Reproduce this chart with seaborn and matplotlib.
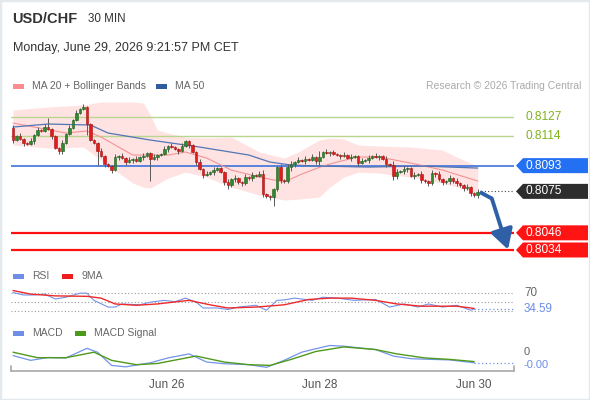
import numpy as np
import pandas as pd
import seaborn as sns
import matplotlib.pyplot as plt
import matplotlib.transforms as mtransforms
from matplotlib.patches import Polygon, Rectangle
from matplotlib.lines import Line2D

# 30 min candles
first_open = 0.81193
closes = [
    0.81109, 0.81137, 0.81116, 0.81088, 0.81081, 0.81102, 0.81144, 0.81179, 0.81172, 0.81200,
    0.81186, 0.81137, 0.81053, 0.81032, 0.81088, 0.81151, 0.81193, 0.81249, 0.81298, 0.81326,
    0.81340, 0.81221, 0.81109, 0.81088, 0.81032, 0.80997, 0.80941, 0.80927, 0.80899, 0.80990,
    0.80997, 0.80983, 0.80955, 0.80969, 0.80976, 0.80962, 0.80990, 0.80997, 0.81018, 0.80976,
    0.80990, 0.81004, 0.81011, 0.81046, 0.81067, 0.81060, 0.81046, 0.81032, 0.81067, 0.81102,
    0.81074, 0.81025, 0.80955, 0.80906, 0.80864, 0.80871, 0.80885, 0.80899, 0.80913, 0.80885,
    0.80815, 0.80794, 0.80836, 0.80843, 0.80815, 0.80808, 0.80850, 0.80843, 0.80864, 0.80857,
    0.80871, 0.80731, 0.80717, 0.80710, 0.80766, 0.80920, 0.80829, 0.80822, 0.80920, 0.80941,
    0.80955, 0.80969, 0.80962, 0.80976, 0.80969, 0.80990, 0.80962, 0.80990, 0.81025, 0.81018,
    0.81022, 0.81011, 0.81004, 0.80997, 0.81004, 0.80983, 0.80990, 0.80997, 0.80948, 0.80962,
    0.80969, 0.80983, 0.80997, 0.80990, 0.80997, 0.80976, 0.80941, 0.80934, 0.80857, 0.80885,
    0.80892, 0.80906, 0.80913, 0.80857, 0.80864, 0.80871, 0.80829, 0.80822, 0.80808, 0.80878,
    0.80871, 0.80836, 0.80815, 0.80822, 0.80843, 0.80822, 0.80808, 0.80794, 0.80773, 0.80780,
    0.80738, 0.80724, 0.80745]
# wick lengths in pips
upper_wick = [2, 1, 2, 1, 1, 2, 1, 2, 1, 2,
              6, 1, 1, 1, 2, 1, 2, 1, 2, 1,
              2, 1, 1, 1, 1, 2, 1, 1, 1, 2,
              1, 2, 1, 2, 1, 2, 1, 2, 1, 1,
              2, 1, 1, 2, 1, 2, 1, 1, 2, 1,
              1, 1, 1, 2, 1, 2, 1, 2, 1, 1,
              1, 2, 1, 2, 1, 1, 2, 1, 2, 1,
              2, 3, 1, 1, 1, 1, 2, 1, 2, 2,
              1, 2, 1, 2, 1, 2, 1, 4, 1, 2,
              1, 2, 1, 1, 2, 1, 2, 1, 1, 2,
              1, 2, 1, 2, 1, 1, 2, 1, 3, 2,
              1, 2, 1, 1, 2, 1, 2, 1, 1, 2,
              1, 2, 1, 1, 2, 1, 2, 1, 1, 2,
              1, 1, 2]
lower_wick = [2, 1, 1, 2, 1, 1, 2, 1, 1, 1,
              1, 2, 1, 2, 2, 1, 1, 1, 1, 1,
              1, 8, 1, 1, 10, 1, 2, 1, 2, 1,
              2, 1, 2, 1, 2, 1, 1, 2, 1, 15,
              1, 2, 1, 1, 2, 1, 1, 2, 1, 1,
              2, 1, 2, 1, 2, 1, 1, 2, 1, 1,
              2, 3, 1, 2, 1, 2, 1, 1, 2, 1,
              1, 2, 1, 2, 6, 1, 2, 1, 1, 3,
              2, 1, 1, 2, 1, 1, 2, 3, 1, 1,
              2, 1, 1, 2, 1, 1, 2, 1, 2, 1,
              1, 2, 1, 1, 2, 1, 2, 1, 3, 2,
              1, 2, 2, 1, 2, 1, 2, 1, 2, 1,
              2, 1, 2, 1, 2, 1, 2, 1, 2, 1,
              2, 1, 2]

# bollinger bands (MA 20) and MA 50
band_idx = [0, 10, 20, 25, 34, 37, 39, 41, 44, 49, 55, 62, 70, 77, 81, 87, 90, 94, 98, 104, 113, 122, 126, 132]
band_upper = [0.81319, 0.81340, 0.81354, 0.81375, 0.81375, 0.81368, 0.81284, 0.81179, 0.81158, 0.81130,
              0.81123, 0.81130, 0.81025, 0.80983, 0.81025, 0.81109, 0.81123, 0.81116, 0.81074, 0.81067,
              0.81060, 0.81039, 0.80990, 0.80927]
band_lower = [0.81074, 0.81053, 0.81060, 0.80969, 0.80808, 0.80780, 0.80773, 0.80801, 0.80843, 0.80885,
              0.80850, 0.80780, 0.80724, 0.80689, 0.80696, 0.80710, 0.80780, 0.80850, 0.80885, 0.80878,
              0.80850, 0.80808, 0.80780, 0.80738]
ma20_idx = [0, 6, 15, 21, 25, 30, 34, 44, 49, 55, 62, 70, 77, 82, 88, 92, 98, 104, 113, 122, 132]
ma20_val = [0.81228, 0.81200, 0.81158, 0.81172, 0.81130, 0.81060, 0.81004, 0.81004, 0.81025, 0.80983,
            0.80899, 0.80850, 0.80815, 0.80871, 0.80927, 0.80955, 0.80990, 0.80990, 0.80948, 0.80899,
            0.80822]
ma50_idx = [0, 10, 22, 27, 39, 53, 67, 73, 79, 87, 101, 116, 132]
ma50_val = [0.81200, 0.81221, 0.81214, 0.81158, 0.81109, 0.81060, 0.81004, 0.80955, 0.80934, 0.80927,
            0.80920, 0.80927, 0.80913]

# levels
resist_levels = [0.8127, 0.8114]
pivot_level = 0.8093
last_price = 0.8075
support_levels = [0.8046, 0.8034]

# RSI and its 9MA
rsi_idx = [0, 3, 6, 9, 12, 15, 19, 21, 23, 27, 29, 31, 36, 39, 43, 46, 49, 52, 54, 58,
           61, 64, 69, 72, 75, 77, 80, 85, 88, 92, 97, 103, 107, 111, 115, 118, 122, 126, 130, 131]
rsi_val = [71.4, 66, 66, 68, 57, 61, 70, 70, 54, 39, 39, 46, 44, 50, 54, 51, 59, 50, 37, 37,
           33.6, 39, 43, 32, 54, 55, 59, 54, 61, 59, 54, 56, 39, 46, 39, 46, 39, 43, 32, 34.59]
rsi_ma_idx = [0, 5, 12, 21, 25, 29, 35, 41, 50, 56, 61, 69, 77, 84, 90, 96, 103, 109, 116, 122, 126, 131]
rsi_ma_val = [76, 68, 64, 63, 59, 46, 43, 46, 54, 44, 37, 39, 44, 56, 59, 59, 54, 46, 41, 41, 41, 36]
rsi_lines = [70, 50, 30]

# MACD and signal
macd_idx = [0, 5, 10, 15, 21, 24, 28, 32, 39, 44, 50, 55, 60, 67, 72, 77, 82, 85, 90, 94,
            99, 103, 108, 113, 119, 124, 131]
macd_val = [-0.0001, -0.0003, -0.00018, -0.0002, 0.0002, 0.00004, -0.00051, -0.00057, -0.0004, -0.0002,
            -0.00003, -0.00037, -0.00044, -0.00048, -0.00059, -0.0003, 0.00004, 0.00015, 0.00032, 0.00029,
            0.00021, 0.00015, -0.00012, -0.00023, -0.00026, -0.00028, -0.0004]
signal_idx = [0, 7, 15, 23, 28, 35, 41, 52, 60, 67, 73, 79, 86, 94, 103, 109, 117, 124, 131]
signal_val = [0.00004, -0.00019, -0.00019, 0.00004, -0.0003, -0.00048, -0.00043, -0.00012, -0.00037, -0.00048,
              -0.00051, -0.00026, 0.00007, 0.00026, 0.00015, -0.00003, -0.0002, -0.00026, -0.00035]

tick_pos = [43.75, 87.2, 131.0]
tick_labels = ['Jun 26', 'Jun 28', 'Jun 30']

sns.set_theme(style='white')
plt.rcParams['font.family'] = ['Liberation Sans', 'DejaVu Sans']

W, H = 590, 400
def fx(px):
    return px / W
def fy(py):
    return 1 - py / H

fig = plt.figure(figsize=(5.9, 4.0), dpi=100)
fig.patch.set_facecolor('white')
fig.add_artist(Rectangle((0, 0), 1, 1, transform=fig.transFigure, fill=False,
                         edgecolor='#e4e9ee', linewidth=2.5))

xlim = (-0.57, 142.3)
ax = fig.add_axes([fx(11), fy(260), fx(514) - fx(11), (260 - 95) / H])
ax_rsi = fig.add_axes([fx(11), fy(318), fx(514) - fx(11), 33 / H])
ax_macd = fig.add_axes([fx(11), fy(371), fx(514) - fx(11), 29 / H])
ax.set_ylim(0.80270, 0.81424)
ax_rsi.set_ylim(14.6, 88.3)
ax_macd.set_ylim(-0.000743, 0.000465)
for a in (ax, ax_rsi, ax_macd):
    a.set_xlim(*xlim)
    a.set_facecolor('none')
    for s in a.spines.values():
        s.set_visible(False)
    a.set_yticks([])
    a.set_xticks([])

# ---- price panel ----
ax.fill_between(band_idx, band_lower, band_upper, color='#ffe2e2', lw=0, zorder=1)
sns.lineplot(x=ma20_idx, y=ma20_val, ax=ax, color='#f59393', lw=0.8, zorder=2)
sns.lineplot(x=ma50_idx, y=ma50_val, ax=ax, color='#5275b5', lw=0.9, zorder=2)

for lv in resist_levels:
    ax.axhline(lv, color='#b8d68f', lw=1.0, zorder=1.5)
ax.axhline(pivot_level, color='#3d72dc', lw=1.2, zorder=1.5)
for lv in support_levels:
    ax.axhline(lv, color='#ff1010', lw=1.6, zorder=1.5)

close = np.array(closes)
opens = np.concatenate([[first_open], close[:-1]])
idx = np.arange(len(close))
up = close >= opens
highs = np.maximum(opens, close) + np.array(upper_wick) * 1e-4
lows = np.minimum(opens, close) - np.array(lower_wick) * 1e-4
ax.vlines(idx, lows, highs, color='#5a5a5a', lw=0.7, zorder=3)
body_h = np.maximum(np.abs(close - opens), 0.00003)
ax.bar(idx, body_h, bottom=np.minimum(opens, close), width=0.72,
       color=np.where(up, '#2f8a2f', '#e31b1b'),
       edgecolor=np.where(up, '#1d5e1d', '#a31212'), linewidth=0.4, zorder=4)

# dotted line to last price label, forecast arrow
ax.plot([idx[-1] + 0.8, xlim[1]], [last_price, last_price], ls=(0, (1, 2)), color='#444', lw=0.8, zorder=3)
arr_col = '#2f5fa6'
mid = (idx[-1] + 4.0, close[-1] - 0.00045)
tip = (idx[-1] + 8.6, support_levels[1] + 0.00003)
ax.plot([idx[-1] + 0.6, mid[0]], [close[-1], mid[1]], color=arr_col, lw=2.8,
        solid_capstyle='butt', clip_on=False, zorder=5)
ax.annotate('', xy=tip, xytext=mid, annotation_clip=False,
            arrowprops=dict(arrowstyle='-|>,head_length=0.8,head_width=0.45', color=arr_col,
                            lw=2.8, mutation_scale=15, shrinkA=0, shrinkB=0), zorder=5)

# right hand labels
tr = mtransforms.blended_transform_factory(fig.transFigure, ax.transData)
px_price = (0.81424 - 0.80270) / 165
def price_box(price, face):
    h = 7.5 * px_price
    pts = [(fx(516), price), (fx(523), price + h), (fx(588), price + h),
           (fx(588), price - h), (fx(523), price - h)]
    ax.add_patch(Polygon(pts, closed=True, transform=tr, facecolor=face,
                         edgecolor='none', clip_on=False, zorder=6))
    ax.text(fx(526), price, f'{price:.4f}', transform=tr, color='white', fontsize=8.6,
            va='center', ha='left', clip_on=False, zorder=7)

for lv in resist_levels:
    ax.text(fx(526), lv, f'{lv:.4f}', transform=tr, color='#7fb21c', fontsize=8.6,
            va='center', ha='left', clip_on=False)
price_box(pivot_level, '#2470f2')
price_box(last_price, '#2d2d2d')
for lv in support_levels:
    price_box(lv, '#ff1414')

# ---- RSI panel ----
for lv in rsi_lines:
    ax_rsi.axhline(lv, color='#9a9a9a', lw=0.8, ls=(0, (1, 2)))
sns.lineplot(x=rsi_idx, y=rsi_val, ax=ax_rsi, color='#7393ea', lw=0.8)
sns.lineplot(x=rsi_ma_idx, y=rsi_ma_val, ax=ax_rsi, color='#ee2a2a', lw=1.0)
ax_rsi.plot([rsi_idx[-1], xlim[1]], [rsi_val[-1], rsi_val[-1]], color='#7393ea', lw=0.9, ls=(0, (1, 2)))
tr_r = mtransforms.blended_transform_factory(fig.transFigure, ax_rsi.transData)
ax_rsi.text(fx(524), 70, '70', transform=tr_r, color='#666', fontsize=8.4, va='center', clip_on=False)
ax_rsi.text(fx(524), rsi_val[-1], f'{rsi_val[-1]:.2f}', transform=tr_r, color='#6d8ee8',
            fontsize=8.4, va='center', clip_on=False)

# ---- MACD panel ----
sns.lineplot(x=macd_idx, y=macd_val, ax=ax_macd, color='#7393ea', lw=0.9)
sns.lineplot(x=signal_idx, y=signal_val, ax=ax_macd, color='#4f9a1c', lw=1.0)
ax_macd.plot([macd_idx[-1], xlim[1]], [macd_val[-1], macd_val[-1]], color='#7393ea', lw=0.9, ls=(0, (1, 2)))
fig.text(fx(524), fy(352), '0', color='#666', fontsize=8.0, va='center')
fig.text(fx(524), fy(364.5), '-0.00', color='#6d8ee8', fontsize=8.0, va='center')

ax_macd.set_xticks(tick_pos)
ax_macd.set_xticklabels(tick_labels, fontsize=8.5, color='#555')
ax_macd.tick_params(axis='x', length=0, pad=6)

# bottom axis line with end ticks
for xs, ys in [([fx(11), fx(514)], [fy(371), fy(371)]),
               ([fx(11), fx(11)], [fy(371), fy(366)]),
               ([fx(514), fx(514)], [fy(371), fy(366)])]:
    fig.add_artist(Line2D(xs, ys, transform=fig.transFigure, color='#a8a8a8', lw=1.2))

# ---- header and legends ----
fig.text(fx(12), fy(19), 'USD/CHF', fontsize=10.5, fontweight='bold', color='#333', va='center')
fig.text(fx(88), fy(19), '30 MIN', fontsize=8.4, color='#333', va='center')
fig.text(fx(13), fy(48), 'Monday, June 29, 2026 9:21:57 PM CET', fontsize=9, color='#333', va='center')

def swatch(x0, yc, color):
    fig.add_artist(Rectangle((fx(x0), fy(yc + 2.5)), 11 / W, 5 / H, transform=fig.transFigure,
                             facecolor=color, edgecolor='none'))

def legend_text(x0, yc, s):
    fig.text(fx(x0), fy(yc), s, fontsize=7.5, color='#666', va='center')

swatch(13, 86, '#ff8c8c')
legend_text(32, 86, 'MA 20 + Bollinger Bands')
swatch(156, 86, '#2e5c9e')
legend_text(175, 86, 'MA 50')
fig.text(fx(581), fy(86), 'Research \u00a9 2026 Trading Central', fontsize=7.5, color='#aaa',
         va='center', ha='right')

swatch(13, 276, '#6f8fe6')
legend_text(32, 276, 'RSI')
swatch(62, 276, '#ee1c1c')
legend_text(81, 276, '9MA')

swatch(13, 333, '#6f8fe6')
legend_text(32, 333, 'MACD')
swatch(75, 333, '#4c9a1a')
legend_text(94, 333, 'MACD Signal')

fig.savefig('out.png', dpi=100)
